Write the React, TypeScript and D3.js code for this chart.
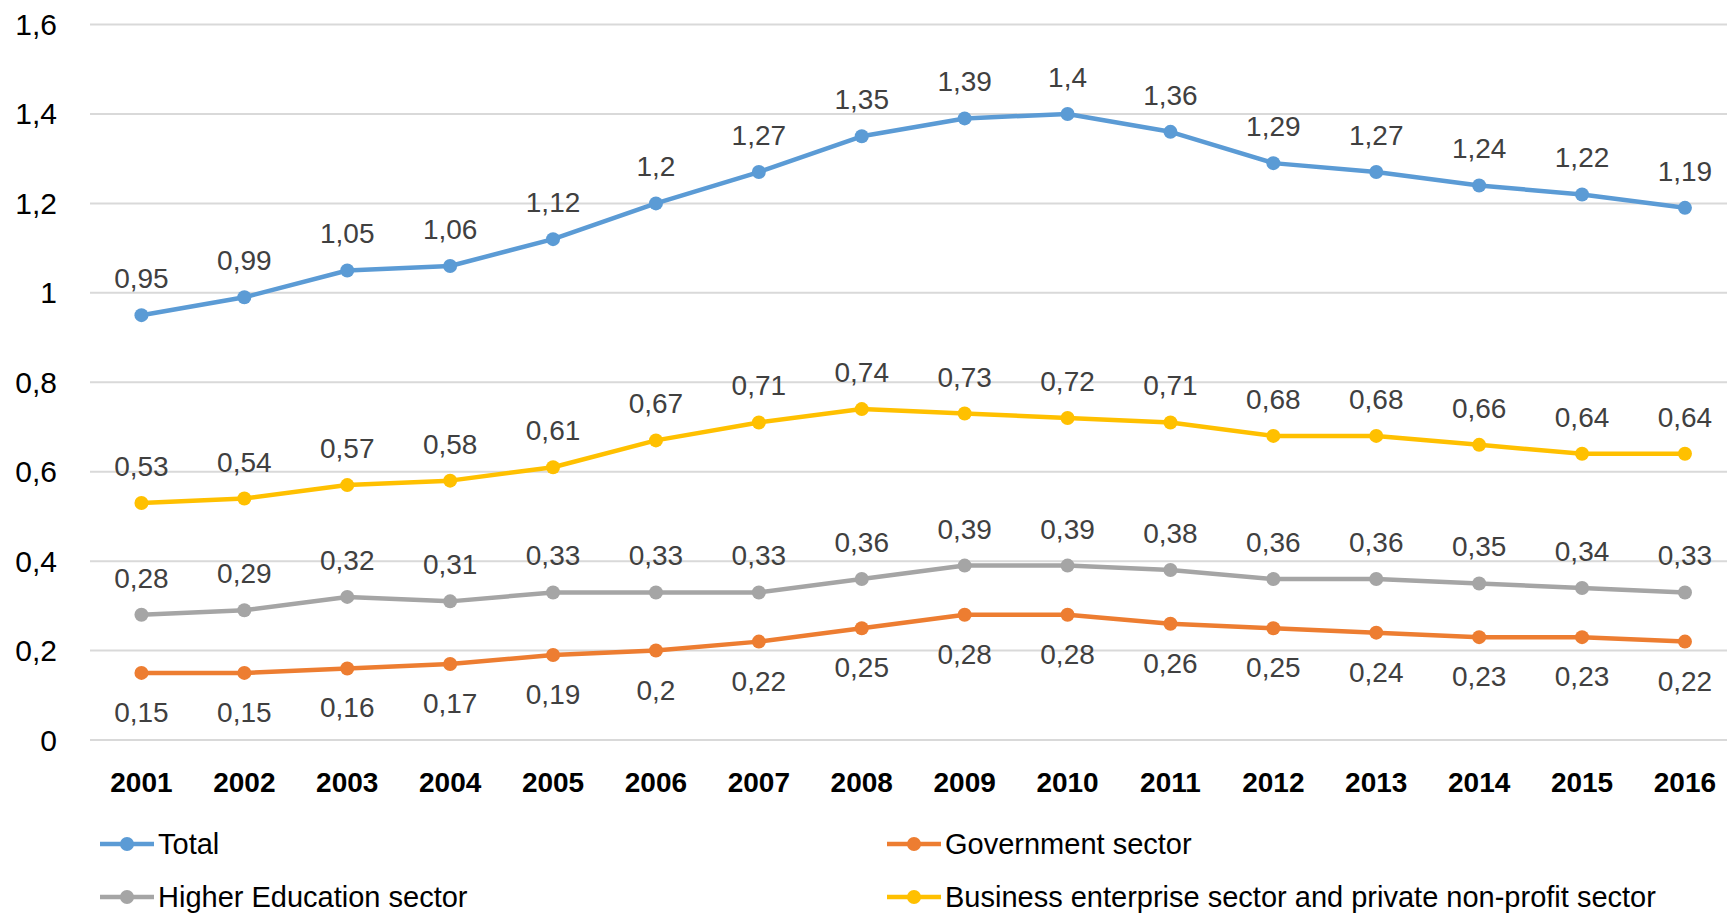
import React from "react";
import * as d3 from "d3";

const years = ["2001","2002","2003","2004","2005","2006","2007","2008","2009","2010","2011","2012","2013","2014","2015","2016"];
const total = [0.95,0.99,1.05,1.06,1.12,1.2,1.27,1.35,1.39,1.4,1.36,1.29,1.27,1.24,1.22,1.19];
const government = [0.15,0.15,0.16,0.17,0.19,0.2,0.22,0.25,0.28,0.28,0.26,0.25,0.24,0.23,0.23,0.22];
const higherEducation = [0.28,0.29,0.32,0.31,0.33,0.33,0.33,0.36,0.39,0.39,0.38,0.36,0.36,0.35,0.34,0.33];
const business = [0.53,0.54,0.57,0.58,0.61,0.67,0.71,0.74,0.73,0.72,0.71,0.68,0.68,0.66,0.64,0.64];
const yTicks = [0,0.2,0.4,0.6,0.8,1,1.2,1.4,1.6];

const series = [
  { name: "Total", values: total, color: "#5B9BD5", below: false },
  { name: "Government sector", values: government, color: "#ED7D31", below: true },
  { name: "Higher Education sector", values: higherEducation, color: "#A5A5A5", below: false },
  { name: "Business enterprise sector and private non-profit sector", values: business, color: "#FFC000", below: false },
];

const W = 1727, H = 914;
const FONT = "'Liberation Sans', Arial, sans-serif";
const fmt = (v: number) => String(v).replace(".", ",");

export default function App() {
  const x = d3.scaleBand<string>().domain(years).range([90, 90 + 16 * 102.9]);
  const cx = (y: string) => (x(y) as number) + x.bandwidth() / 2;
  const y = d3.scaleLinear().domain([0, 1.6]).range([740, 24.5]);
  const line = d3.line<number>().x((_, i) => cx(years[i])).y(d => y(d));

  const legendPos = [
    { x: 100, y: 844 },
    { x: 887, y: 844 },
    { x: 100, y: 897 },
    { x: 887, y: 897 },
  ];

  return (
    <svg width={W} height={H} style={{ position: "absolute", left: 0, top: 0, background: "#fff" }} fontFamily={FONT}>
      {yTicks.map(t => (
        <g key={t}>
          <line x1={90} x2={W} y1={y(t)} y2={y(t)} stroke="#D9D9D9" strokeWidth={2} />
          <text x={57} y={y(t)} dy="0.35em" textAnchor="end" fontSize={30} fill="#000">{fmt(t)}</text>
        </g>
      ))}
      {years.map(yr => (
        <text key={yr} x={cx(yr)} y={782} dy="0.35em" textAnchor="middle" fontSize={28} fontWeight="bold" fill="#000">{yr}</text>
      ))}
      {series.map(s => (
        <g key={s.name}>
          <path d={line(s.values) || ""} fill="none" stroke={s.color} strokeWidth={4.5} strokeLinejoin="round" />
          {s.values.map((v, i) => (
            <circle key={i} cx={cx(years[i])} cy={y(v)} r={7} fill={s.color} />
          ))}
          {s.values.map((v, i) => (
            <text key={"l" + i} x={cx(years[i])} y={y(v) + (s.below ? 49 : -27)} textAnchor="middle" fontSize={28} fill="#404040">{fmt(v)}</text>
          ))}
        </g>
      ))}
      {series.map((s, i) => {
        const p = legendPos[i];
        return (
          <g key={"leg" + i}>
            <line x1={p.x} x2={p.x + 54} y1={p.y} y2={p.y} stroke={s.color} strokeWidth={4.5} />
            <circle cx={p.x + 27} cy={p.y} r={7} fill={s.color} />
            <text x={p.x + 58} y={p.y} dy="0.35em" fontSize={29} fill="#000">{s.name}</text>
          </g>
        );
      })}
    </svg>
  );
}
